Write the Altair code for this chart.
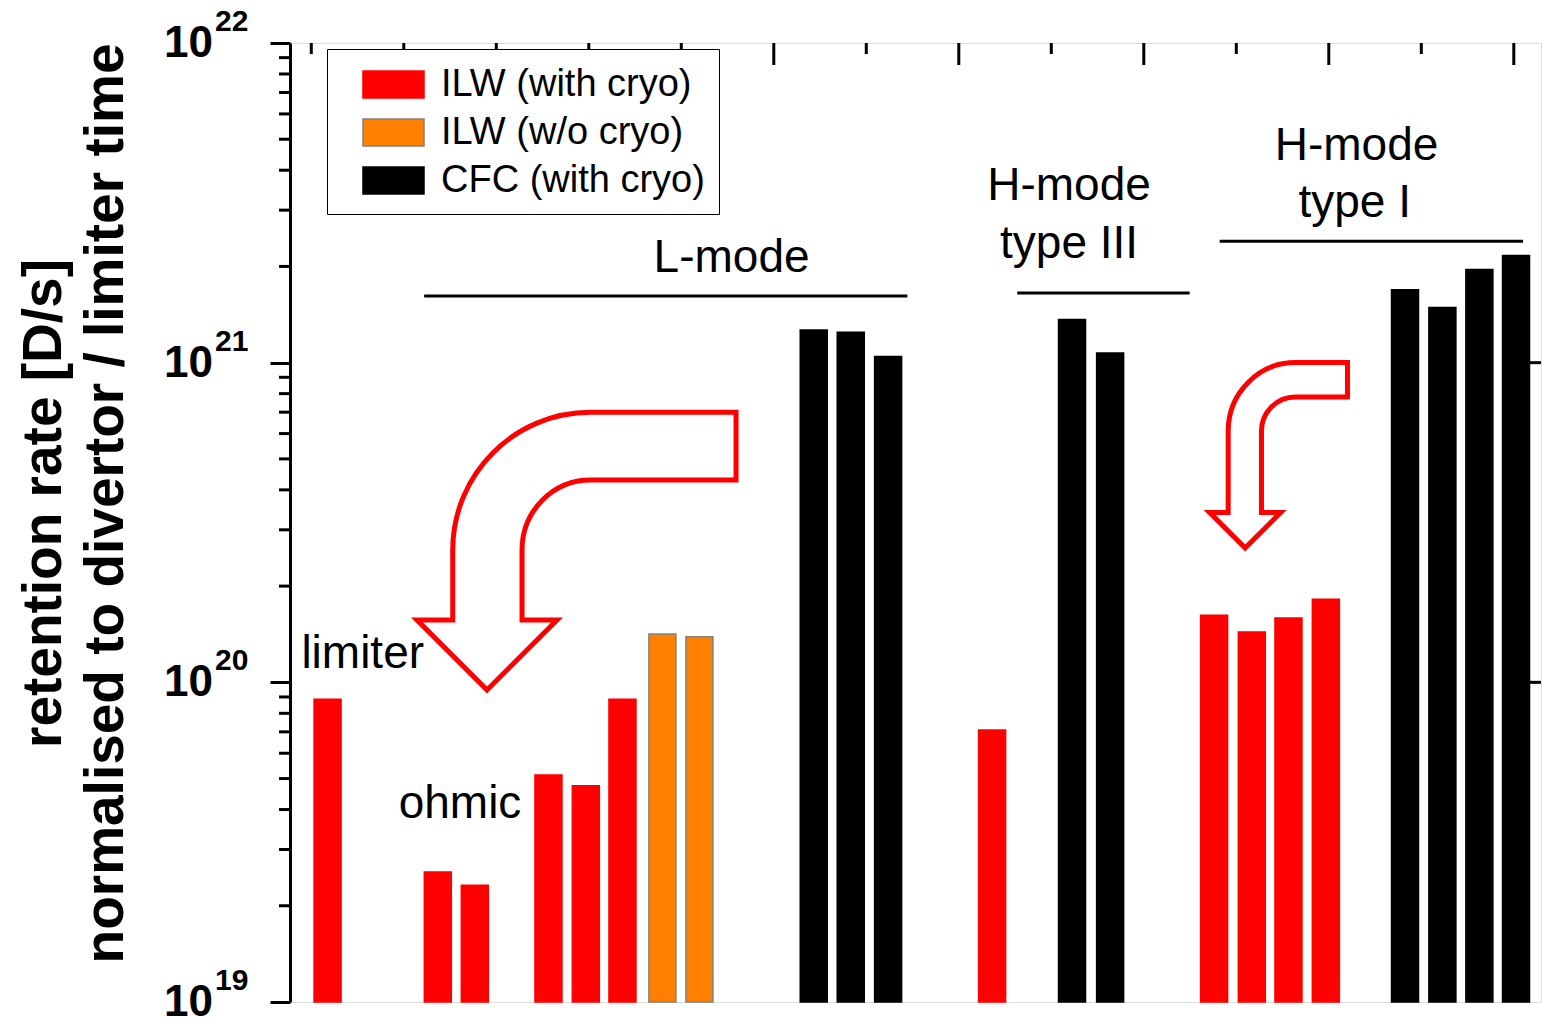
import altair as alt
import pandas as pd

FONT = "Liberation Sans"
W, H = 1251, 959

# ---------------- data ----------------
cats = ["ILW (with cryo)", "ILW (w/o cryo)", "CFC (with cryo)"]
bar_x = [1.00, 3.98, 4.98, 6.97, 7.98, 8.97, 10.05, 11.05,
         14.14, 15.14, 16.15, 18.96, 21.12, 22.15,
         24.96, 25.98, 26.97, 27.98, 30.12, 31.13, 32.13, 33.12]
bar_val = [8.85e19, 2.55e19, 2.32e19, 5.13e19, 4.75e19, 8.85e19, 1.416e20, 1.389e20,
           1.265e21, 1.246e21, 1.046e21, 7.09e19, 1.365e21, 1.072e21,
           1.62e20, 1.437e20, 1.59e20, 1.82e20, 1.69e21, 1.487e21, 1.955e21, 2.165e21]
bar_cat = [cats[0]] * 6 + [cats[1]] * 2 + [cats[2]] * 3 + [cats[0]] + [cats[2]] * 2 \
          + [cats[0]] * 4 + [cats[2]] * 4

dec_vals = [1e19, 1e20, 1e21, 1e22]
dec_base = ["10", "10", "10", "10"]
dec_exp = ["19", "20", "21", "22"]
minor_vals = [m * d for d in [1e19, 1e20, 1e21] for m in range(2, 10)]
right_ticks = [1e20, 1e21]
top_major = [3.06, 8.06, 13.06, 18.06, 23.06, 28.06, 33.06]
top_minor = [0.56, 5.56, 10.56, 15.56, 20.56, 25.56, 30.56]

ann_text = ["limiter", "ohmic", "L-mode", "H-mode", "type III", "H-mode", "type I"]
ann_x = [1.95, 4.58, 11.92, 21.04, 21.04, 28.81, 28.76]
ann_y = [1.108e20, 3.763e19, 1.92e21, 3.226e21, 2.125e21, 4.30e21, 2.853e21]

grp_x1 = [3.61, 19.64, 25.11]
grp_x2 = [16.67, 24.30, 33.31]
grp_y = [1.616e21, 1.651e21, 2.40e21]

arrow_x = [5.31, 25.80]
arrow_y = [9.46e19, 2.63e20]

# ---------------- shapes ----------------
BIG_ARROW = ("M 249 -277.7 L 249 -210 L 103.4 -210 C 65.6 -210 35 -178.7 35 -140 "
             "L 35 -70 L 70 -70 L 0 0 L -70 -70 L -34.3 -70 L -34.3 -140 "
             "C -34.3 -216.1 27.4 -277.7 103.4 -277.7 Z")
SMALL_ARROW = ("M 102.3 -185.5 L 102.3 -151 L 50.3 -151 C 31.5 -151 16.3 -135.8 16.3 -117 "
               "L 16.3 -35.5 L 35.5 -35.5 L 0 0 L -35.5 -35.5 L -17 -35.5 L -17 -117 "
               "C -17 -154.8 13.1 -185.5 50.3 -185.5 Z")
SWATCH = "M -1.488 -0.6585 L 1.488 -0.6585 L 1.488 0.6585 L -1.488 0.6585 Z"

xs = alt.Scale(domain=[0.12, 33.66], nice=False, zero=False)
ys = alt.Scale(type="log", domain=[1e19, 1e22], nice=False)

bars_df = pd.DataFrame({"x": bar_x, "v": bar_val, "cat": bar_cat})
dec_df = pd.DataFrame({"v": dec_vals, "base": dec_base, "exp": dec_exp})
minor_df = pd.DataFrame({"v": minor_vals})
right_df = pd.DataFrame({"v": right_ticks})
topmaj_df = pd.DataFrame({"x": top_major})
topmin_df = pd.DataFrame({"x": top_minor})
ann_df = pd.DataFrame({"x": ann_x, "v": ann_y, "t": ann_text})
grp_df = pd.DataFrame({"x": grp_x1, "x2": grp_x2, "v": grp_y})

legend = alt.Legend(
    title=None, orient="none", legendX=37, legendY=6,
    symbolType=SWATCH, symbolSize=1681, symbolOffset=31, symbolStrokeWidth=1.5,
    labelOffset=26, labelFontSize=38, labelFont=FONT, labelColor="black",
    labelLimit=400, padding=14, rowPadding=7, strokeColor="black", fillColor="white",
)

bars = alt.Chart(bars_df).mark_bar(size=27, strokeWidth=1.5).encode(
    x=alt.X("x:Q", scale=xs, axis=None),
    y=alt.Y("v:Q", scale=ys, axis=alt.Axis(
        values=dec_vals, labels=False, tickSize=20, tickWidth=3, tickColor="black",
        domainColor="black", domainWidth=3, grid=False,
        title=["retention rate [D/s]", "normalised to divertor / limiter time"],
        titleFont=FONT, titleFontSize=55, titleFontWeight="bold", titleColor="black",
        titleLineHeight=62, titleX=-230, titleY=460, titleBaseline="alphabetic",
        titleAngle=270, titleAlign="center")),
    y2=alt.datum(1e19),
    color=alt.Color("cat:N", scale=alt.Scale(domain=cats, range=["#ff0000", "#ff8000", "#000000"]),
                    legend=legend),
    stroke=alt.Stroke("cat:N", scale=alt.Scale(domain=cats, range=["#ff0000", "#808080", "#000000"]),
                      legend=legend),
)

minor_ticks = alt.Chart(minor_df).mark_rule(strokeWidth=3, color="black").encode(
    y=alt.Y("v:Q", scale=ys), x=alt.value(-11), x2=alt.value(0))
right_tk = alt.Chart(right_df).mark_rule(strokeWidth=3, color="black").encode(
    y=alt.Y("v:Q", scale=ys), x=alt.value(W - 14), x2=alt.value(W))
top_maj = alt.Chart(topmaj_df).mark_rule(strokeWidth=3, color="black").encode(
    x=alt.X("x:Q", scale=xs), y=alt.value(0), y2=alt.value(22))
top_min = alt.Chart(topmin_df).mark_rule(strokeWidth=3, color="black").encode(
    x=alt.X("x:Q", scale=xs), y=alt.value(0), y2=alt.value(11))

lab_base = alt.Chart(dec_df).mark_text(
    font=FONT, fontSize=44, fontWeight="bold", align="right", baseline="alphabetic",
    dy=14, color="black").encode(y=alt.Y("v:Q", scale=ys), x=alt.value(-77), text="base:N")
lab_exp = alt.Chart(dec_df).mark_text(
    font=FONT, fontSize=30, fontWeight="bold", align="left", baseline="alphabetic",
    dy=-12, color="black").encode(y=alt.Y("v:Q", scale=ys), x=alt.value(-75), text="exp:N")

ann = alt.Chart(ann_df).mark_text(
    font=FONT, fontSize=46, align="center", baseline="alphabetic", color="black").encode(
    x=alt.X("x:Q", scale=xs), y=alt.Y("v:Q", scale=ys), text="t:N")

grp = alt.Chart(grp_df).mark_rule(strokeWidth=3, color="black").encode(
    x=alt.X("x:Q", scale=xs), x2="x2:Q", y=alt.Y("v:Q", scale=ys))

arr_big = alt.Chart(pd.DataFrame({"x": arrow_x[:1], "v": arrow_y[:1]})).mark_point(
    shape=BIG_ARROW, size=4, filled=False, color="#ff0000", strokeWidth=5, opacity=1).encode(
    x=alt.X("x:Q", scale=xs), y=alt.Y("v:Q", scale=ys))
arr_small = alt.Chart(pd.DataFrame({"x": arrow_x[1:], "v": arrow_y[1:]})).mark_point(
    shape=SMALL_ARROW, size=4, filled=False, color="#ff0000", strokeWidth=5, opacity=1).encode(
    x=alt.X("x:Q", scale=xs), y=alt.Y("v:Q", scale=ys))

chart = alt.layer(
    bars, minor_ticks, right_tk, top_maj, top_min, lab_base, lab_exp, ann, grp, arr_big, arr_small
).properties(
    width=W, height=H,
    padding={"left": 290, "top": 43, "right": 1, "bottom": 22},
    autosize=alt.AutoSizeParams(type="none"),
    background="white",
).configure_view(
    stroke="black", strokeWidth=3
).configure_legend(
    strokeWidth=2
).configure(font=FONT)

chart.save("out.html", embed_options={"renderer": "svg", "actions": False})
